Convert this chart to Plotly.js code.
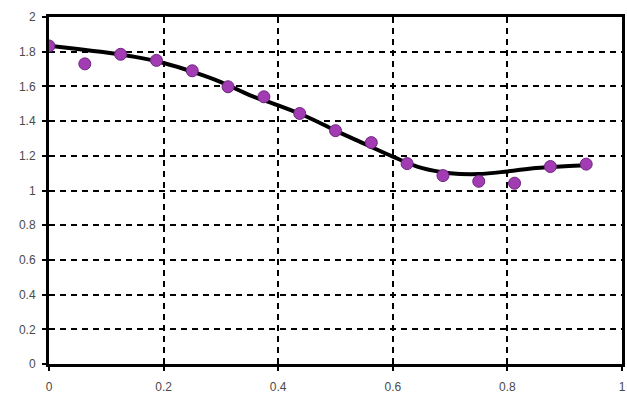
<!DOCTYPE html>
<html>
<head>
<meta charset="utf-8">
<script src="https://cdn.plot.ly/plotly-3.0.1.min.js"></script>
<style>html,body{margin:0;padding:0;background:#fff;}#chart{width:627px;height:398px;}</style>
</head>
<body>
<div id="chart"></div>
<script>
// Measured points
const pointX = [0, 0.0625, 0.125, 0.1875, 0.25, 0.3125, 0.375, 0.4375, 0.5, 0.5625, 0.625, 0.6875, 0.75, 0.8125, 0.875, 0.9375];
const pointY = [1.833, 1.73, 1.785, 1.75, 1.69, 1.598, 1.54, 1.444, 1.345, 1.276, 1.155, 1.086, 1.053, 1.042, 1.138, 1.152];
// Fitted curve
const curveX = [0, 0.05, 0.1, 0.15, 0.2, 0.25, 0.3, 0.35, 0.4, 0.45, 0.5, 0.55, 0.6, 0.65, 0.7, 0.75, 0.8, 0.85, 0.9, 0.94];
const curveY = [1.835, 1.815, 1.795, 1.77, 1.735, 1.685, 1.625, 1.55, 1.49, 1.425, 1.345, 1.27, 1.195, 1.13, 1.1, 1.095, 1.11, 1.13, 1.14, 1.145];
const xTicks = [0, 0.2, 0.4, 0.6, 0.8, 1];
const xTickText = ['0', '0.2', '0.4', '0.6', '0.8', '1'];
const yTicks = [0, 0.2, 0.4, 0.6, 0.8, 1, 1.2, 1.4, 1.6, 1.8, 2];
const yTickText = ['0', '0.2', '0.4', '0.6', '0.8', '1', '1.2', '1.4', '1.6', '1.8', '2'];

const traces = [
  {x: curveX, y: curveY, mode: 'lines', line: {color: '#000', width: 4, shape: 'spline'}, hoverinfo: 'skip'},
  {x: pointX, y: pointY, mode: 'markers', marker: {color: '#a23cb2', size: 12, line: {color: '#6e2580', width: 1}}}
];
const tickFont = {family: 'Liberation Sans, Arial, sans-serif', size: 12, color: '#4a4a4a'};
const layout = {
  width: 627, height: 398,
  margin: {l: 49, r: 5, t: 17, b: 34, pad: 0},
  paper_bgcolor: '#fff', plot_bgcolor: '#fff',
  showlegend: false,
  xaxis: {
    range: [0, 1], tickvals: xTicks, ticktext: xTickText,
    showline: true, linecolor: '#000', linewidth: 3, mirror: true,
    showgrid: true, gridcolor: '#000', gridwidth: 2, griddash: '6px,5px',
    ticks: 'outside', ticklen: 4, tickwidth: 2, tickcolor: '#000',
    ticklabelstandoff: 6, ticklabeloverflow: 'allow',
    tickfont: tickFont, zeroline: false, fixedrange: true
  },
  yaxis: {
    range: [0, 2], tickvals: yTicks, ticktext: yTickText,
    showline: true, linecolor: '#000', linewidth: 3, mirror: true,
    showgrid: true, gridcolor: '#000', gridwidth: 2, griddash: '6px,5px',
    ticks: 'outside', ticklen: 4, tickwidth: 2, tickcolor: '#000',
    ticklabelstandoff: 4, ticklabeloverflow: 'allow',
    tickfont: tickFont, zeroline: false, fixedrange: true
  }
};
Plotly.newPlot('chart', traces, layout, {staticPlot: true, displayModeBar: false});
</script>
</body>
</html>
